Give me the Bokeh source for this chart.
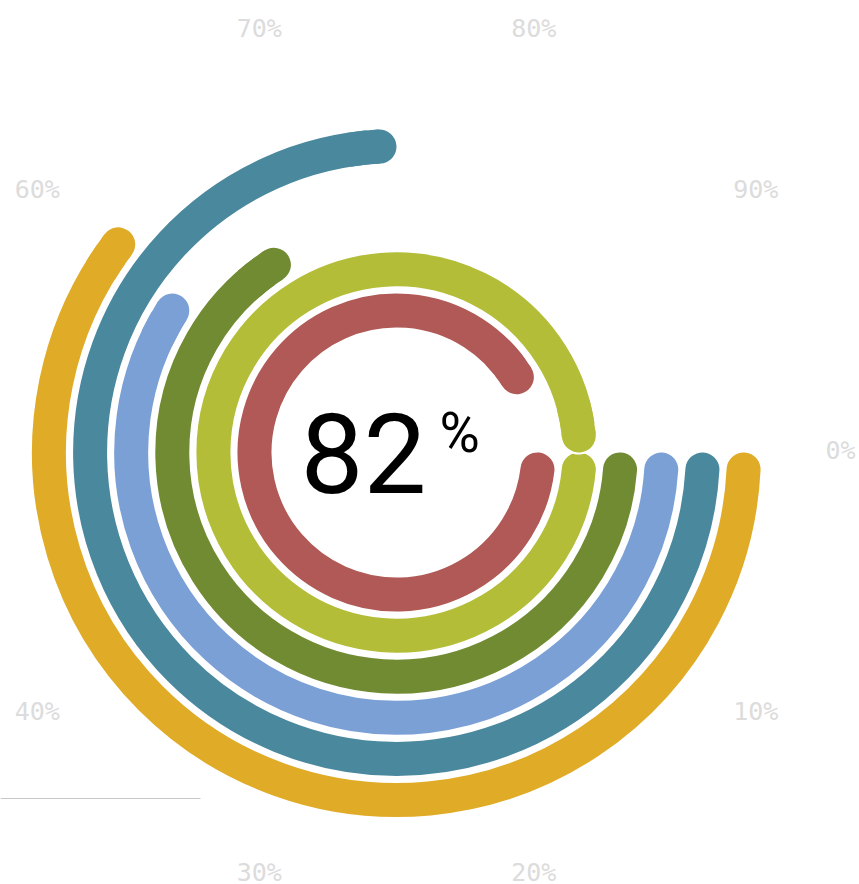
import math
from bokeh.plotting import figure
from bokeh.models import Range1d, ColumnDataSource
from bokeh.core.properties import value
from bokeh.embed import file_html
from bokeh.resources import INLINE

# ---- data (inner ring to outer ring) ----
series_values = [93, 100, 67, 60, 75, 61]          # percent of full circle
series_colors = ["#b05956", "#b3bd38", "#718b33", "#7aa0d6", "#4a889e", "#e0ab27"]
tick_values = [0, 10, 20, 30, 40, 50, 60, 70, 80, 90]
tick_labels = [f"{t}%" for t in tick_values]
center_value = "82"
center_unit = "%"

# ---- layout ----
W, H = 859, 884
CX, CY = 396, 432
R0, STEP = 142, 41.1
BAR_W = 34
OUTLINE = 4
LABEL_R = 444
LABEL_CY = CY + 2

p = figure(width=W, height=H, x_range=Range1d(0, W), y_range=Range1d(0, H),
           output_backend="svg", toolbar_location=None, min_border=0,
           x_axis_location=None, y_axis_location=None)
p.grid.visible = False
p.outline_line_color = None
p.background_fill_color = "white"
p.border_fill_color = "white"

radii = [R0 + i * STEP for i in range(len(series_values))]
half = BAR_W / 2.0

def ang(pct):
    return -2 * math.pi * pct / 100.0

body = dict(x=[], y=[], r=[], s=[], e=[], c=[])
caps = dict(x=[], y=[], r=[], s=[], e=[], c=[])
fix = dict(x=[], y=[], r=[], s=[], e=[], c=[])
for v, col, r in zip(series_values, series_colors, radii):
    off = half / r
    end_c = ang(v) + off
    for d, s, e in ((body, -off, end_c), (caps, end_c + 0.01, end_c),
                    (fix, end_c + 1.5 * (half + OUTLINE) / r, end_c)):
        d["x"].append(CX); d["y"].append(CY); d["r"].append(r)
        d["s"].append(s); d["e"].append(e); d["c"].append(col)

src = ColumnDataSource(body)
cap_src = ColumnDataSource(caps)
fix_src = ColumnDataSource(fix)
arc_kw = dict(x="x", y="y", radius="r", start_angle="s", end_angle="e", direction="clock")
p.arc(line_color="white", line_width=BAR_W + OUTLINE, line_cap="round", source=src, **arc_kw)
p.arc(line_color="c", line_width=BAR_W, line_cap="round", source=src, **arc_kw)
# end caps drawn on top with a white outline (separates overlapping ends)
p.arc(line_color="white", line_width=BAR_W + OUTLINE, line_cap="round", source=cap_src, **arc_kw)
p.arc(line_color="c", line_width=BAR_W, line_cap="round", source=cap_src, **arc_kw)
p.arc(line_color="c", line_width=BAR_W, line_cap="butt", source=fix_src, **arc_kw)

# angular axis labels
lx = [CX + LABEL_R * math.cos(ang(t)) for t in tick_values]
ly = [LABEL_CY + LABEL_R * math.sin(ang(t)) for t in tick_values]
p.text(x=lx, y=ly, text=tick_labels, text_align="center", text_baseline="middle",
       text_font=value("DejaVu Sans Mono"), text_font_size="25px", text_color="#dcdcdc")

# center label
p.text(x=[300], y=[H - 452], text=[center_value], text_align="left", text_baseline="middle",
       text_font=value("Roboto"), text_font_size="112px", text_color="black")
p.text(x=[439], y=[H - 432], text=[center_unit], text_align="left", text_baseline="middle",
       text_font=value("Roboto"), text_font_size="55px", text_color="black")

# thin line bottom left
p.segment(x0=[0], y0=[H - 798], x1=[200], y1=[H - 798], line_color="#c8c8c8", line_width=1)

open("out.html", "w").write(file_html(p, INLINE))
